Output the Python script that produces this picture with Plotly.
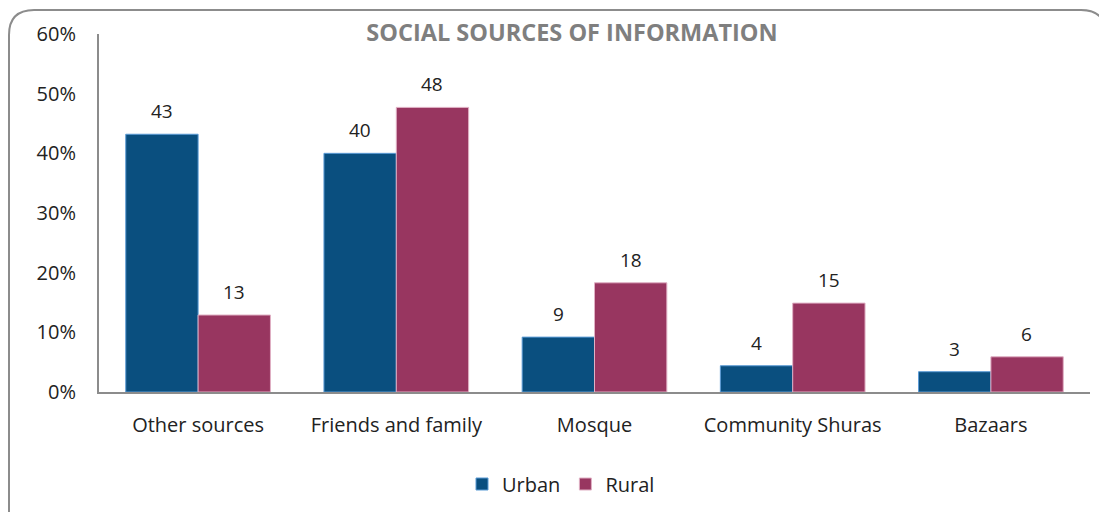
import plotly.graph_objects as go

categories = ["Other sources", "Friends and family", "Mosque", "Community Shuras", "Bazaars"]
urban = [43.2, 40.0, 9.2, 4.4, 3.4]
rural = [12.9, 47.7, 18.3, 14.9, 5.9]
y_ticks = [0, 10, 20, 30, 40, 50, 60]

OFF = 8  # page body margin
W, H = 1107, 512
# target plot area in screen pixels: x 99..1090, y 34..392
L, T = 99 - OFF, 34 - OFF
R = W - (1090 - OFF)
B = H - (392 - OFF)
pw, ph = W - L - R, H - T - B

def px(x):
    return (x - OFF - L) / pw

def py(y):
    return (H - B - (y - OFF)) / ph

FONT = "Open Sans"
urban_col, rural_col = "#0A4F7F", "#983660"

fig = go.Figure()
fig.add_trace(go.Bar(name="Urban", x=categories, y=[v / 100 for v in urban],
                     marker=dict(color=urban_col, line=dict(color="#5B9BD5", width=1))))
fig.add_trace(go.Bar(name="Rural", x=categories, y=[v / 100 for v in rural],
                     marker=dict(color=rural_col, line=dict(color="#E0B0C4", width=1))))

for i, c in enumerate(categories):
    for vals, shift in ((urban, -36), (rural, 36)):
        fig.add_annotation(x=c, y=vals[i] / 100, text=str(round(vals[i])), showarrow=False,
                           xshift=shift, yshift=8, yanchor="bottom",
                           font=dict(family=FONT, size=19, color="#222222"))

# rounded outer border
x0, y0, x1, y1, r = px(9), py(10), px(1106), py(540), 25
rx, ry = r / pw, r / ph
path = (f"M {x0},{y1} L {x0},{y0 - ry} Q {x0},{y0} {x0 + rx},{y0} "
        f"L {x1 - rx},{y0} Q {x1},{y0} {x1},{y0 - ry} L {x1},{y1}")
fig.add_shape(type="path", xref="paper", yref="paper", path=path,
              line=dict(color="#8c8c8c", width=2))

fig.update_layout(
    width=W, height=H,
    margin=dict(l=L, r=R, t=T, b=B),
    paper_bgcolor="white", plot_bgcolor="white",
    barmode="group", bargap=0.27, bargroupgap=0,
    title=dict(text="<b>SOCIAL SOURCES OF INFORMATION</b>", x=(572 - OFF) / W, xanchor="center",
               y=1 - (33 - OFF) / H, yanchor="middle",
               font=dict(family=FONT, size=23.5, color="#7F7F7F")),
    legend=dict(orientation="h", x=px(561), xanchor="center", y=py(484), yanchor="middle",
                font=dict(family=FONT, size=20, color="#222222"), itemwidth=30,
                traceorder="normal"),
    showlegend=True,
)
fig.update_yaxes(range=[0, 0.6], tickvals=[v / 100 for v in y_ticks],
                 ticktext=[f"{v}%" for v in y_ticks], showgrid=False, zeroline=False,
                 showline=True, linecolor="#8c8c8c", linewidth=2, ticks="",
                 ticklabelstandoff=17,
                 tickfont=dict(family=FONT, size=20, color="#222222"))
fig.update_xaxes(showgrid=False, showline=True, linecolor="#8c8c8c", linewidth=2, ticks="",
                 ticklabelstandoff=14,
                 tickfont=dict(family=FONT, size=20, color="#222222"))

fig.write_html("out.html")
